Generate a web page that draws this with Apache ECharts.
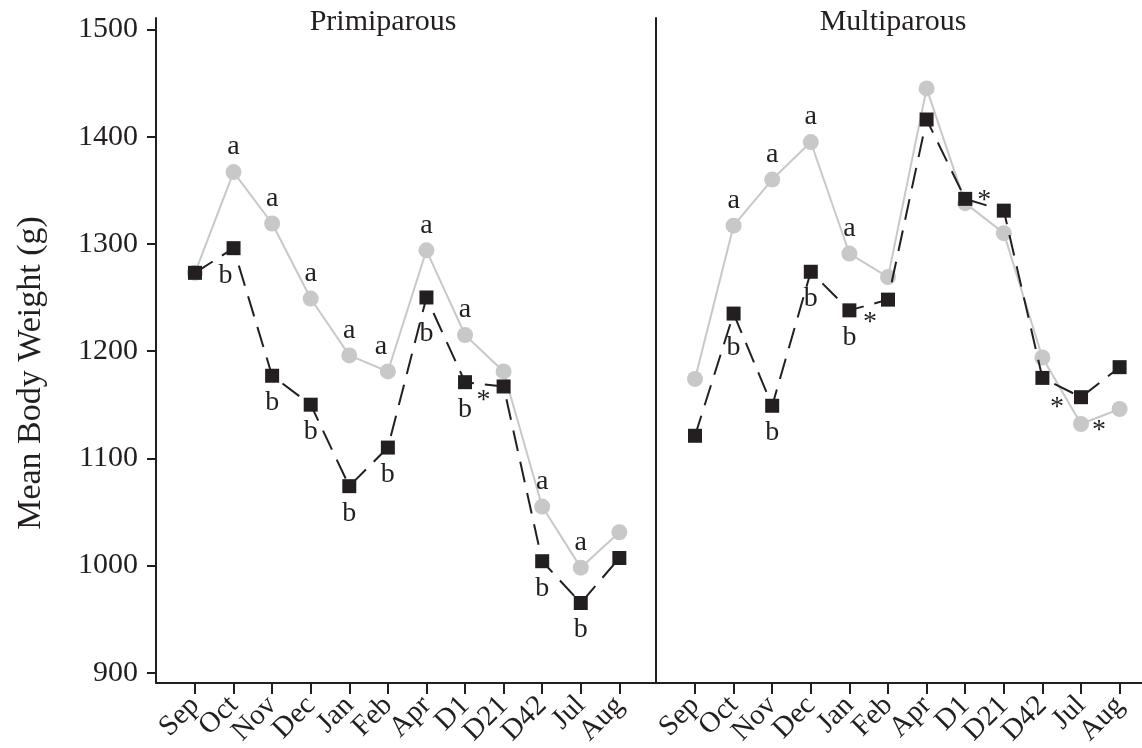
<!DOCTYPE html>
<html>
<head>
<meta charset="utf-8">
<script src="https://cdn.jsdelivr.net/npm/echarts@6/dist/echarts.min.js"></script>
<style>html,body{margin:0;padding:0;background:#fff;}#c{width:1142px;height:748px;}</style>
</head>
<body>
<div id="c"></div>
<script>
// ---- data ----
var months = ['Sep','Oct','Nov','Dec','Jan','Feb','Apr','D1','D21','D42','Jul','Aug'];
var yTicks = [900, 1000, 1100, 1200, 1300, 1400, 1500];
var panelTitles = ['Primiparous', 'Multiparous'];
var yTitle = 'Mean Body Weight (g)';

var primiGray  = [1273, 1367, 1319, 1249, 1196, 1181, 1294, 1215, 1181, 1055, 998, 1031];
var primiBlack = [1273, 1296, 1177, 1150, 1074, 1110, 1250, 1171, 1167, 1004, 965, 1007];
var multiGray  = [1174, 1317, 1360, 1395, 1291, 1269, 1445, 1338, 1310, 1194, 1132, 1146];
var multiBlack = [1121, 1235, 1149, 1274, 1238, 1248, 1416, 1342, 1331, 1175, 1157, 1185];

var primiGrayMark  = ['', 'a','a','a','a','a','a','a','', 'a','a',''];
var primiBlackMark = ['', 'b','b','b','b','b','b','b','*','b','b',''];
var multiGrayMark  = ['', 'a','a','a','a','', '', '', '', '', '*',''];
var multiBlackMark = ['', 'b','b','b','b','*','', '*','', '', '*',''];

// ---- style ----
var FONT = 'Liberation Serif';
var INK = '#231f20';
var GRAY = '#c8c8c8';
var defaultOffset = { a: [0, -25], b: [0, 27] };
var specialOffset = {
  'p-black-1': [-8, 27], 'p-black-6': [0, 36], 'p-black-8': [-20, 14], 'p-gray-5': [-7, -25],
  'm-black-1': [0, 34], 'm-black-5': [-18, 23], 'm-black-7': [19, 2], 'm-black-10': [-24, 10],
  'm-gray-10': [18, 7]
};

function buildData(values, marks, key) {
  return values.map(function (v, i) {
    var m = marks[i];
    var item = { value: [i, v] };
    if (m) {
      item.label = {
        show: true, position: 'inside', formatter: m,
        offset: specialOffset[key + '-' + i] || defaultOffset[m] || [0, 0],
        color: INK, fontFamily: FONT, fontSize: 28
      };
    } else {
      item.label = { show: false };
    }
    return item;
  });
}

var yMin = 890.4, yMax = 1510.7;
var evenIdx = [], oddIdx = [];
months.forEach(function (m, i) { (i % 2 === 0 ? evenIdx : oddIdx).push(i); });

// Two overlaid x axes per panel (even / odd ticks) so that neighbouring
// rotated labels never trigger the min/max overlap hiding.
function xAxis(g, max, vals, showLine) {
  return {
    type: 'value', gridIndex: g, min: -1.01, max: max, position: 'bottom', offset: 0,
    axisLine: { show: showLine, onZero: false, lineStyle: { color: INK, width: 2 } },
    axisTick: { show: true, customValues: vals, length: 11, lineStyle: { color: INK, width: 2 } },
    axisLabel: {
      show: true, customValues: vals, rotate: 45, margin: 18,
      showMinLabel: true, showMaxLabel: true, hideOverlap: false,
      formatter: function (v) { return months[Math.round(v)]; },
      color: INK, fontFamily: FONT, fontSize: 29
    },
    splitLine: { show: false }
  };
}

var grayLine = function (name, data, marks, key, g) {
  return {
    name: name, type: 'line', xAxisIndex: g * 2, yAxisIndex: g,
    data: buildData(data, marks, key), symbol: 'circle', symbolSize: 16,
    itemStyle: { color: GRAY }, lineStyle: { color: GRAY, width: 2 },
    z: 2, animation: false
  };
};
var blackLine = function (name, data, marks, key, g) {
  return {
    name: name, type: 'line', xAxisIndex: g * 2, yAxisIndex: g,
    data: buildData(data, marks, key), symbol: 'rect', symbolSize: 14,
    itemStyle: { color: INK }, lineStyle: { color: INK, width: 2, type: [21, 11] },
    z: 3, animation: false
  };
};

var option = {
  backgroundColor: '#fff',
  animation: false,
  grid: [
    { left: 156, top: 18, width: 500, height: 665, containLabel: false, outerBoundsMode: 'none' },
    { left: 656, top: 18, width: 486, height: 665, containLabel: false, outerBoundsMode: 'none' }
  ],
  xAxis: [
    xAxis(0, 11.95, evenIdx, true), xAxis(0, 11.95, oddIdx, false),
    xAxis(1, 11.58, evenIdx, true), xAxis(1, 11.58, oddIdx, false)
  ],
  yAxis: [
    {
      type: 'value', gridIndex: 0, min: yMin, max: yMax,
      axisLine: { show: true, onZero: false, lineStyle: { color: INK, width: 2 } },
      axisTick: { show: true, customValues: yTicks, length: 9, lineStyle: { color: INK, width: 2 } },
      axisLabel: { show: true, customValues: yTicks, margin: 18, color: INK, fontFamily: FONT, fontSize: 30,
                   showMinLabel: true, showMaxLabel: true,
                   formatter: function (v) { return String(Math.round(v)); } },
      splitLine: { show: false }
    },
    {
      type: 'value', gridIndex: 1, min: yMin, max: yMax,
      axisLine: { show: true, onZero: false, lineStyle: { color: INK, width: 2 } },
      axisTick: { show: false }, axisLabel: { show: false }, splitLine: { show: false }
    }
  ],
  graphic: [
    { type: 'text', x: 383, y: 22, style: { text: panelTitles[0], fontFamily: FONT, fontSize: 30, fill: INK, textAlign: 'center', textVerticalAlign: 'middle' } },
    { type: 'text', x: 893, y: 22, style: { text: panelTitles[1], fontFamily: FONT, fontSize: 30, fill: INK, textAlign: 'center', textVerticalAlign: 'middle' } },
    { type: 'text', x: 31, y: 373, rotation: Math.PI / 2, style: { text: yTitle, fontFamily: FONT, fontSize: 34, fill: INK, textAlign: 'center', textVerticalAlign: 'middle' } }
  ],
  series: [
    grayLine('Primiparous gray', primiGray, primiGrayMark, 'p-gray', 0),
    blackLine('Primiparous black', primiBlack, primiBlackMark, 'p-black', 0),
    grayLine('Multiparous gray', multiGray, multiGrayMark, 'm-gray', 1),
    blackLine('Multiparous black', multiBlack, multiBlackMark, 'm-black', 1)
  ]
};

var chart = echarts.init(document.getElementById('c'), null, { renderer: 'canvas' });
chart.setOption(option);
</script>
</body>
</html>
